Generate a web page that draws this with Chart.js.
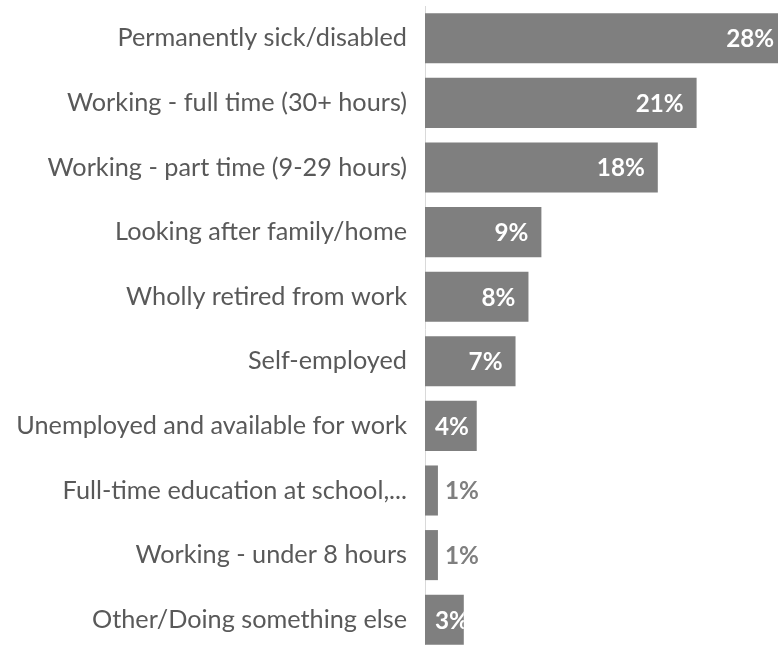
<!DOCTYPE html>
<html>
<head>
<meta charset="utf-8">
<script src="https://cdn.jsdelivr.net/npm/chart.js@4/dist/chart.umd.min.js"></script>
<style>
  html, body { margin: 0; padding: 0; background: #ffffff; overflow: hidden; }
  #wrap { position: absolute; left: 0; top: 0; }
</style>
</head>
<body>
<div id="wrap"><canvas id="c" width="813" height="652"></canvas></div>
<script>
const categories = [
  "Permanently sick/disabled",
  "Working - full time (30+ hours)",
  "Working - part time (9-29 hours)",
  "Looking after family/home",
  "Wholly retired from work",
  "Self-employed",
  "Unemployed and available for work",
  "Full-time education at school,...",
  "Working - under 8 hours",
  "Other/Doing something else"
];
const values = [28, 21, 18, 9, 8, 7, 4, 1, 1, 3];
const valueLabels = ["28%", "21%", "18%", "9%", "8%", "7%", "4%", "1%", "1%", "3%"];

const FAMILY = "Lato, 'Liberation Sans', sans-serif";
const BAR_COLOR = "#7f7f7f";
const TEXT_COLOR = "#595959";

// size fonts so text widths match the reference
const mctx = document.createElement("canvas").getContext("2d");
function fitSize(text, weight, target) {
  mctx.font = weight + " 100px " + FAMILY;
  return 100 * target / mctx.measureText(text).width;
}
const tickSize = fitSize("Unemployed and available for work", "normal", 391);
const labelSize = fitSize("28%", "bold", 48);

const valueLabelPlugin = {
  id: "valueLabels",
  afterDatasetsDraw(chart) {
    const ctx = chart.ctx;
    const meta = chart.getDatasetMeta(0);
    ctx.save();
    ctx.font = "bold " + labelSize + "px " + FAMILY;
    ctx.textBaseline = "middle";
    meta.data.forEach((bar, i) => {
      const p = bar.getProps(["x", "y", "base", "height"], true);
      const text = valueLabels[i];
      const w = ctx.measureText(text).width;
      const start = Math.min(p.base, p.x);
      const end = Math.max(p.base, p.x);
      const bw = end - start;
      if (bw > 25) {
        const right = Math.max(end - 13, start + 10 + w);
        ctx.save();
        ctx.beginPath();
        ctx.rect(start, p.y - p.height / 2, bw, p.height);
        ctx.clip();
        ctx.fillStyle = "#ffffff";
        ctx.textAlign = "right";
        ctx.fillText(text, right, p.y + 1);
        ctx.restore();
      } else {
        ctx.fillStyle = BAR_COLOR;
        ctx.textAlign = "left";
        ctx.fillText(text, end + 7, p.y + 1);
      }
    });
    ctx.restore();
  }
};

new Chart(document.getElementById("c"), {
  type: "bar",
  data: {
    labels: categories,
    datasets: [{
      data: values,
      backgroundColor: BAR_COLOR,
      borderWidth: 0,
      barPercentage: 0.775,
      categoryPercentage: 1.0
    }]
  },
  options: {
    indexAxis: "y",
    responsive: false,
    animation: false,
    layout: { padding: { top: 6, right: 0, bottom: 0, left: 0 } },
    plugins: {
      legend: { display: false },
      tooltip: { enabled: false }
    },
    scales: {
      x: {
        display: false,
        min: 0,
        max: 30
      },
      y: {
        grid: { display: false, drawTicks: false },
        border: { display: true, color: "#d9d9d9", width: 1 },
        ticks: {
          color: TEXT_COLOR,
          padding: 18,
          font: { family: FAMILY, size: tickSize }
        },
        afterFit(scale) {
          scale.width = 425;
          scale.paddingTop = 0;
          scale.paddingBottom = 0;
        }
      }
    }
  },
  plugins: [valueLabelPlugin]
});
</script>
</body>
</html>
